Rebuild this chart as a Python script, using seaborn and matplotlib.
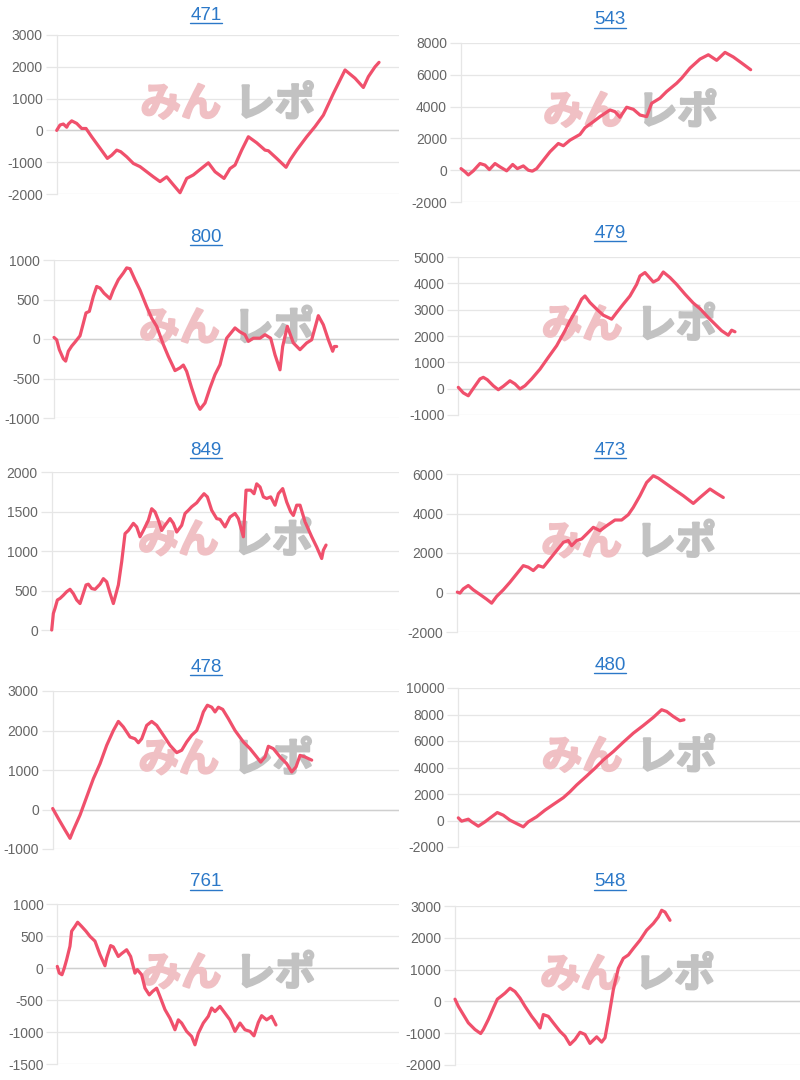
import matplotlib
matplotlib.use("Agg")
import matplotlib.pyplot as plt
import matplotlib.patheffects as pe
import seaborn as sns
from matplotlib.lines import Line2D

sns.set_theme(style="white")
plt.rcParams['font.family'] = ['Liberation Sans', 'Noto Sans CJK JP', 'DejaVu Sans']

# ---------------- data ----------------
titles = ["471", "543", "800", "479", "849", "473", "478", "480", "761", "548"]

games_471 = [0, 10, 20, 30, 35, 45, 60, 75, 88, 105, 130, 152, 165, 180, 192, 210, 230, 250, 270, 290,
             310, 330, 345, 370, 390, 410, 430, 455, 475, 502, 520, 535, 555, 575, 600, 625, 635, 660,
             688, 700, 720, 750, 775, 800, 830, 865, 895, 920, 935, 955, 967]
diff_471 = [0, 170, 200, 100, 200, 300, 220, 60, 60, -200, -560, -880, -780, -620, -670, -830, -1040,
            -1140, -1300, -1460, -1610, -1460, -1650, -1960, -1510, -1400, -1230, -1020, -1300, -1510,
            -1200, -1090, -620, -200, -390, -620, -640, -880, -1160, -930, -620, -200, 120, 480, 1160,
            1900, 1640, 1350, 1690, 2000, 2140]

games_543 = [0, 12, 22, 37, 57, 72, 85, 102, 117, 137, 155, 169, 187, 202, 214, 227, 247, 267, 292, 307,
             327, 357, 372, 397, 417, 447, 462, 477, 497, 517, 537, 557, 572, 597, 617, 647, 662, 687,
             717, 742, 767, 792, 817, 842, 869]
diff_543 = [100, -100, -300, -40, 420, 320, 40, 420, 210, -40, 360, 100, 270, 0, -60, 100, 630, 1160,
            1680, 1540, 1890, 2250, 2670, 3050, 3370, 3790, 3680, 3330, 3960, 3830, 3470, 3370, 4210,
            4530, 4950, 5470, 5790, 6420, 6990, 7260, 6910, 7410, 7120, 6740, 6320]

games_800 = [0, 8, 16, 28, 35, 43, 53, 63, 78, 88, 96, 106, 118, 128, 138, 150, 168, 178, 193, 208, 218,
             228, 243, 258, 278, 293, 308, 328, 343, 363, 378, 388, 398, 413, 428, 438, 453, 468, 483,
             498, 518, 543, 558, 573, 583, 598, 618, 633, 650, 663, 678, 686, 700, 718, 738, 758, 773,
             793, 808, 823, 836, 841, 848]
diff_800 = [20, -10, -135, -250, -280, -155, -90, -40, 40, 200, 330, 350, 540, 665, 645, 580, 510, 620,
            750, 835, 900, 890, 750, 620, 410, 265, 160, -70, -220, -400, -365, -330, -410, -620, -810,
            -890, -810, -620, -450, -325, 10, 140, 90, 55, -30, 10, 10, 55, 10, -200, -390, -95, 160,
            -50, -135, -50, -10, 295, 180, -10, -155, -95, -95]

games_479 = [0, 15, 30, 45, 65, 75, 87, 105, 120, 135, 155, 170, 185, 200, 220, 245, 270, 295, 320, 335,
             355, 370, 380, 395, 415, 435, 460, 475, 495, 515, 535, 545, 560, 585, 600, 615, 635, 655,
             680, 705, 725, 750, 770, 790, 810, 820, 830]
diff_479 = [50, -160, -270, 10, 370, 430, 340, 110, -40, 90, 300, 180, -10, 110, 370, 740, 1190, 1630,
            2200, 2580, 3020, 3400, 3520, 3270, 3020, 2790, 2640, 2890, 3210, 3520, 3960, 4280, 4410,
            4050, 4150, 4430, 4220, 3960, 3590, 3250, 3040, 2700, 2450, 2200, 2030, 2220, 2160]

games_849 = [0, 5, 10, 17, 25, 35, 45, 55, 65, 75, 85, 90, 103, 110, 120, 130, 145, 155, 165, 175, 185,
             200, 210, 220, 230, 245, 255, 265, 275, 290, 300, 310, 320, 330, 340, 355, 365, 375, 390,
             400, 410, 420, 435, 445, 457, 467, 480, 495, 505, 520, 535, 550, 560, 575, 583, 597, 607,
             615, 625, 635, 645, 657, 670, 680, 693, 705, 717, 725, 735, 745, 760, 780, 795, 810, 815,
             823]
diff_849 = [0, 210, 275, 380, 400, 440, 485, 515, 460, 380, 335, 400, 570, 580, 525, 515, 580, 650, 610,
            465, 335, 570, 865, 1220, 1260, 1350, 1305, 1180, 1260, 1390, 1535, 1495, 1390, 1260, 1325,
            1410, 1350, 1240, 1325, 1475, 1515, 1560, 1610, 1665, 1725, 1685, 1515, 1410, 1400, 1305,
            1430, 1475, 1410, 1180, 1770, 1770, 1725, 1850, 1810, 1685, 1665, 1685, 1580, 1725, 1790,
            1620, 1495, 1450, 1580, 1580, 1370, 1180, 1050, 905, 1010, 1075]

games_473 = [0, 8, 18, 33, 48, 68, 88, 103, 118, 138, 158, 178, 198, 213, 228, 243, 258, 278, 298, 318,
             333, 343, 358, 373, 388, 408, 428, 448, 473, 493, 513, 528, 548, 568, 588, 603, 628, 653,
             678, 708, 728, 758, 778, 798]
diff_473 = [20, -30, 185, 355, 135, -100, -340, -540, -200, 135, 520, 940, 1360, 1280, 1110, 1360, 1280,
            1700, 2120, 2540, 2630, 2370, 2630, 2710, 2960, 3300, 3130, 3380, 3670, 3670, 3940, 4310,
            4900, 5570, 5910, 5790, 5490, 5190, 4900, 4510, 4810, 5240, 5020, 4810]

games_478 = [0, 17, 37, 52, 62, 82, 102, 122, 142, 162, 182, 197, 212, 232, 247, 257, 267, 282, 297, 312,
             332, 352, 372, 387, 402, 417, 432, 442, 452, 464, 477, 487, 497, 510, 527, 547, 572, 592,
             612, 624, 637, 647, 662, 682, 702, 717, 730, 742, 757, 777]
diff_478 = [25, -230, -520, -730, -520, -140, 320, 780, 1160, 1625, 2000, 2230, 2090, 1835, 1790, 1690,
            1790, 2130, 2230, 2130, 1880, 1625, 1440, 1500, 1710, 1880, 2000, 2210, 2470, 2640, 2590,
            2470, 2590, 2535, 2300, 2000, 1710, 1540, 1330, 1200, 1330, 1600, 1540, 1330, 1160, 950,
            1080, 1370, 1330, 1250]

games_480 = [0, 10, 20, 30, 40, 60, 80, 100, 117, 135, 155, 175, 195, 210, 235, 260, 285, 315, 335, 355,
             385, 410, 435, 465, 495, 525, 555, 585, 610, 625, 645, 665, 677]
diff_480 = [200, -50, 25, 100, -100, -430, -100, 280, 600, 400, 25, -230, -480, -100, 280, 780, 1210,
            1720, 2170, 2680, 3360, 3940, 4570, 5200, 5910, 6590, 7170, 7780, 8360, 8230, 7850, 7530,
            7600]

games_761 = [0, 6, 14, 21, 28, 38, 43, 53, 61, 73, 86, 98, 113, 128, 143, 148, 160, 168, 183, 193, 208,
             220, 233, 240, 253, 263, 276, 286, 298, 308, 323, 338, 353, 363, 373, 388, 403, 413, 423,
             438, 453, 463, 473, 488, 503, 518, 533, 548, 563, 578, 590, 603, 613, 628, 643, 656]
diff_761 = [25, -80, -105, 0, 130, 340, 575, 650, 715, 650, 575, 495, 420, 210, 35, 155, 350, 330, 180,
            225, 285, 180, -80, -25, -105, -315, -420, -365, -315, -445, -650, -785, -965, -810, -860,
            -990, -1070, -1200, -1020, -860, -755, -625, -680, -600, -705, -810, -990, -860, -965, -990,
            -1060, -850, -745, -810, -755, -890]

games_548 = [0, 10, 25, 40, 60, 77, 85, 100, 115, 127, 140, 150, 165, 180, 195, 210, 230, 245, 255, 265,
             280, 295, 315, 330, 345, 360, 375, 390, 405, 425, 440, 450, 460, 475, 490, 505, 520, 535,
             555, 575, 595, 610, 620, 630, 645]
diff_548 = [70, -155, -415, -675, -885, -1010, -885, -570, -210, 70, 175, 260, 415, 310, 105, -155, -470,
            -675, -835, -415, -470, -675, -940, -1095, -1355, -1200, -970, -1040, -1320, -1115, -1280,
            -1145, -570, 365, 1040, 1355, 1460, 1665, 1925, 2240, 2450, 2655, 2865, 2810, 2550]

yticks_471 = [-2000, -1000, 0, 1000, 2000, 3000]
yticks_543 = [-2000, 0, 2000, 4000, 6000, 8000]
yticks_800 = [-1000, -500, 0, 500, 1000]
yticks_479 = [-1000, 0, 1000, 2000, 3000, 4000, 5000]
yticks_849 = [0, 500, 1000, 1500, 2000]
yticks_473 = [-2000, 0, 2000, 4000, 6000]
yticks_478 = [-1000, 0, 1000, 2000, 3000]
yticks_480 = [-2000, 0, 2000, 4000, 6000, 8000, 10000]
yticks_761 = [-1500, -1000, -500, 0, 500, 1000]
yticks_548 = [-2000, -1000, 0, 1000, 2000, 3000]

watermark_left = "みん"
watermark_right = "レポ"

series = [
    (games_471, diff_471, yticks_471),
    (games_543, diff_543, yticks_543),
    (games_800, diff_800, yticks_800),
    (games_479, diff_479, yticks_479),
    (games_849, diff_849, yticks_849),
    (games_473, diff_473, yticks_473),
    (games_478, diff_478, yticks_478),
    (games_480, diff_480, yticks_480),
    (games_761, diff_761, yticks_761),
    (games_548, diff_548, yticks_548),
]

# ---------------- layout (pixels) ----------------
W, H = 800, 1080
# left, top, right, bottom of plot area; title y
boxes = [
    (56.7, 35, 399, 194, 15),
    (461, 43, 800, 202, 20),
    (54, 260, 399, 418, 237),
    (458.3, 257, 800, 415, 233),
    (51.7, 472, 399, 630, 450),
    (457.3, 474, 800, 632, 451),
    (52.7, 691, 399, 849, 667),
    (458.3, 688, 800, 847, 665),
    (57.3, 904, 399, 1064, 882),
    (455, 906, 800, 1065, 882),
]
title_x = [206, 610]

LINE = "#f0506c"
GRID = "#e6e6e6"
ZERO = "#cfcfcf"
TICK = "#666666"
LINK = "#2b78c8"
WM_PINK = "#f0c0c4"
WM_GRAY = "#c2c2c2"

fig = plt.figure(figsize=(W / 100, H / 100), dpi=100)
fig.patch.set_facecolor("white")

title_texts = []
for i, ((g, d, yt), (L, T, R, B, ty)) in enumerate(zip(series, boxes)):
    ax = fig.add_axes([L / W, 1 - B / H, (R - L) / W, (B - T) / H])
    ax.set_facecolor("white")
    sns.lineplot(x=g, y=d, ax=ax, color=LINE, linewidth=2.3, clip_on=False, zorder=3,
                 sort=False, estimator=None)
    ax.set_xlim(0, (R - L) * 3)
    ax.set_ylim(yt[0], yt[-1])
    ax.set_yticks(yt)
    ax.set_yticklabels([str(v) for v in yt])
    ax.set_xticks([])
    ax.set_xlabel("")
    ax.set_ylabel("")
    ax.grid(axis="y", color=GRID, linewidth=0.9, zorder=0)
    ax.set_axisbelow(True)
    if yt[0] < 0 < yt[-1]:
        ax.axhline(0, color=ZERO, linewidth=1.0, zorder=1)
    for s in ["top", "right", "bottom"]:
        ax.spines[s].set_visible(False)
    ax.spines["left"].set_color(GRID)
    ax.spines["left"].set_linewidth(0.9)
    ax.tick_params(axis="y", length=8, width=0.9, color=GRID, pad=2,
                   labelsize=10, labelcolor=TICK, left=True)
    # watermark
    cx = (L + R) / 2
    cy = (T + B) / 2 - 10
    ax.text((cx - 47) / W, 1 - cy / H, watermark_left, transform=fig.transFigure, ha="center",
            va="center", fontsize=29, fontweight="bold", color=WM_PINK, family=["Noto Sans CJK JP"],
            zorder=2, clip_on=False,
            path_effects=[pe.withStroke(linewidth=1.6, foreground=WM_PINK)])
    ax.text((cx + 47) / W, 1 - cy / H, watermark_right, transform=fig.transFigure, ha="center",
            va="center", fontsize=29, fontweight="bold", color=WM_GRAY, family=["Noto Sans CJK JP"],
            zorder=2, clip_on=False,
            path_effects=[pe.withStroke(linewidth=1.6, foreground=WM_GRAY)])
    t = fig.text(title_x[i % 2] / W, 1 - ty / H, titles[i], ha="center", va="center",
                 fontsize=13.5, color=LINK)
    title_texts.append(t)

fig.canvas.draw()
r = fig.canvas.get_renderer()
inv = fig.transFigure.inverted()
for t in title_texts:
    bb = t.get_window_extent(r)
    (x0, y0) = inv.transform((bb.x0, bb.y0 + 1))
    (x1, _) = inv.transform((bb.x1, bb.y0 + 1))
    fig.add_artist(Line2D([x0, x1], [y0, y0], transform=fig.transFigure, color=LINK, linewidth=1.0))

fig.savefig("out.png", dpi=100)
